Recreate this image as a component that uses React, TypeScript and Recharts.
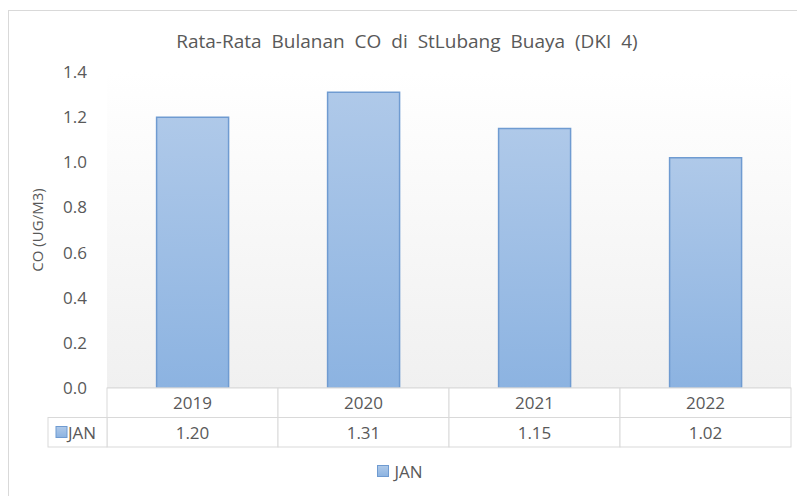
import { Bar, BarChart, CartesianGrid, Legend, XAxis, YAxis } from "recharts"

const years = ["2019", "2020", "2021", "2022"]
const janValues = [1.2, 1.31, 1.15, 1.02]
const yTicks = [0, 0.2, 0.4, 0.6, 0.8, 1.0, 1.2, 1.4]

const data = years.map((year, i) => ({ year, JAN: janValues[i] }))

const CHART_W = 796
const CHART_H = 485
const PLOT_LEFT = 98
const PLOT_RIGHT = 14
const BAND = (CHART_W - PLOT_LEFT - PLOT_RIGHT) / years.length
const ROW_H = 29.5
const FONT = "'Open Sans', 'Noto Sans', sans-serif"
const TEXT = "#595959"
const LINE = "#d9d9d9"

// draws the data table under the plot, one column per category
const TableTick = (props: any) => {
  const { x, y, payload, index } = props
  const left = x - BAND / 2
  return (
    <g>
      <rect x={left} y={y} width={BAND} height={ROW_H} fill="#fff" stroke={LINE} />
      <rect x={left} y={y + ROW_H} width={BAND} height={ROW_H} fill="#fff" stroke={LINE} />
      <text x={x} y={y + 21} textAnchor="middle" fill={TEXT} fontSize={17} fontFamily={FONT}>
        {payload.value}
      </text>
      <text x={x} y={y + ROW_H + 21} textAnchor="middle" fill={TEXT} fontSize={17} fontFamily={FONT}>
        {janValues[index].toFixed(2)}
      </text>
      {index === 0 && (
        <g>
          <rect x={left - 59} y={y + ROW_H} width={59} height={ROW_H} fill="#fff" stroke={LINE} />
          <rect x={left - 51} y={y + ROW_H + 9} width={11} height={11} fill="url(#barGrad)" stroke="#6f9bd1" />
          <text x={left - 39} y={y + ROW_H + 21} fill={TEXT} fontSize={17} fontFamily={FONT}>
            JAN
          </text>
        </g>
      )}
    </g>
  )
}

const LegendBox = () => (
  <div style={{ display: "flex", justifyContent: "center", alignItems: "center", height: 50, fontFamily: FONT, fontSize: 17, color: TEXT }}>
    <span style={{ width: 10, height: 10, border: "1px solid #6f9bd1", background: "linear-gradient(#adc8e8, #8db4e2)", marginRight: 5 }} />
    <span>JAN</span>
  </div>
)

export default function App() {
  return (
    <div style={{ position: "relative", marginTop: 2, width: CHART_W, height: CHART_H, border: "1px solid #d9d9d9", background: "#fff" }}>
      <div style={{ position: "absolute", top: 17, left: 0, width: "100%", textAlign: "center", fontFamily: FONT, fontSize: 19, color: TEXT, wordSpacing: 5 }}>
        Rata-Rata Bulanan CO di StLubang Buaya (DKI 4)
      </div>
      <BarChart
        width={CHART_W}
        height={CHART_H}
        data={data}
        margin={{ top: 61, right: PLOT_RIGHT, bottom: 0, left: 0 }}
        barCategoryGap="29%"
      >
        <defs>
          <linearGradient id="barGrad" x1="0" y1="0" x2="0" y2="1">
            <stop offset="0%" stopColor="#afc9e9" />
            <stop offset="100%" stopColor="#8cb3e1" />
          </linearGradient>
          <linearGradient id="bgGrad" x1="0" y1="0" x2="0" y2="1">
            <stop offset="0%" stopColor="#ffffff" />
            <stop offset="100%" stopColor="#f0f0f0" />
          </linearGradient>
        </defs>
        <CartesianGrid horizontal={false} vertical={false} fill="url(#bgGrad)" />
        <XAxis
          dataKey="year"
          height={58}
          tickLine={false}
          tickSize={0}
          tickMargin={0}
          axisLine={{ stroke: LINE }}
          tick={<TableTick />}
          interval={0}
        />
        <YAxis
          width={PLOT_LEFT}
          domain={[0, 1.4]}
          ticks={yTicks}
          tickFormatter={(v: number) => v.toFixed(1)}
          axisLine={false}
          tickLine={false}
          tickSize={0}
          tickMargin={20}
          tick={{ fill: TEXT, fontSize: 17, fontFamily: FONT }}
          label={{
            content: () => (
              <text x={34} y={219} transform="rotate(-90 34 219)" textAnchor="middle" fill={TEXT} fontSize={15} fontFamily={FONT}>
                CO (UG/M3)
              </text>
            ),
          }}
        />
        <Legend verticalAlign="bottom" content={<LegendBox />} wrapperStyle={{ height: 50 }} />
        <Bar dataKey="JAN" fill="url(#barGrad)" stroke="#6f9bd1" strokeWidth={1.5} isAnimationActive={false} />
      </BarChart>
    </div>
  )
}
